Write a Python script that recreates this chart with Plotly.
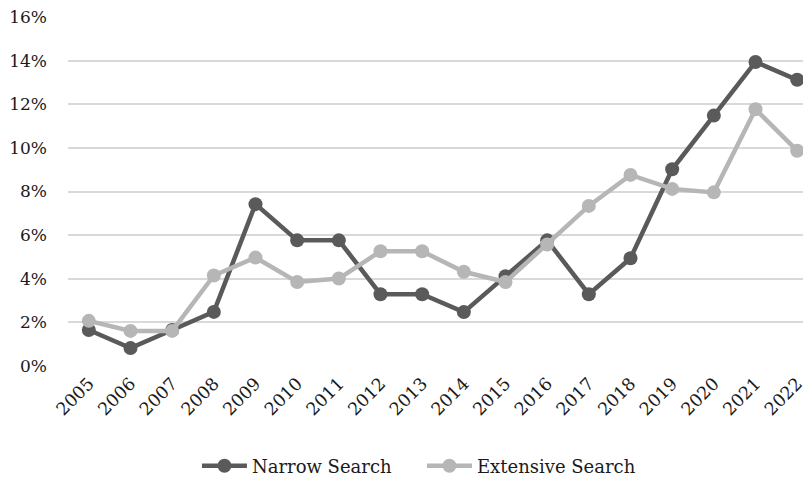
import plotly.graph_objects as go

years = [str(y) for y in range(2005, 2023)]
narrow = [1.65, 0.82, 1.65, 2.48, 7.42, 5.76, 5.76, 3.29, 3.29, 2.47, 4.12, 5.76, 3.29, 4.94, 9.02, 11.48, 13.94, 13.12]
extensive = [2.07, 1.61, 1.61, 4.15, 4.97, 3.85, 4.01, 5.26, 5.26, 4.32, 3.85, 5.57, 7.34, 8.76, 8.12, 7.96, 11.77, 9.87]

font_family = "DejaVu Serif, Liberation Serif, serif"

fig = go.Figure()
fig.add_trace(go.Scatter(x=years, y=narrow, name="Narrow Search", mode="lines+markers",
                         line=dict(color="#5a5a5a", width=4.5),
                         marker=dict(color="#5a5a5a", size=14)))
fig.add_trace(go.Scatter(x=years, y=extensive, name="Extensive Search", mode="lines+markers",
                         line=dict(color="#b6b6b6", width=4.5),
                         marker=dict(color="#b6b6b6", size=14)))

fig.update_layout(
    width=811, height=479,
    margin=dict(l=0, r=0, t=0, b=0, autoexpand=False),
    paper_bgcolor="white", plot_bgcolor="white",
    font=dict(family=font_family, size=17, color="#1a1a1a"),
    showlegend=True,
    legend=dict(orientation="h", x=0.233, xanchor="left", y=0.0438, yanchor="middle",
                font=dict(size=18), itemwidth=45, entrywidth=165, entrywidthmode="pixels"),
    xaxis=dict(type="category", range=[-0.5, 17.5], tickangle=-45,
               domain=[60 / 811, 810 / 811],
               showgrid=False, showline=False, zeroline=False, ticks="",
               tickfont=dict(size=17.5), automargin=False, ticklabeloverflow="allow",
               ticklabelstandoff=3),
    yaxis=dict(range=[0, 16], dtick=2, ticksuffix="%",
               domain=[121 / 479, 470 / 479],
               showgrid=True,
               gridcolor="#d9d9d9", gridwidth=1.5, zeroline=False, showline=False,
               ticks="", tickfont=dict(size=17), automargin=False, ticklabeloverflow="allow",
               ticklabelstandoff=20),
)

fig.write_html("out.html")
